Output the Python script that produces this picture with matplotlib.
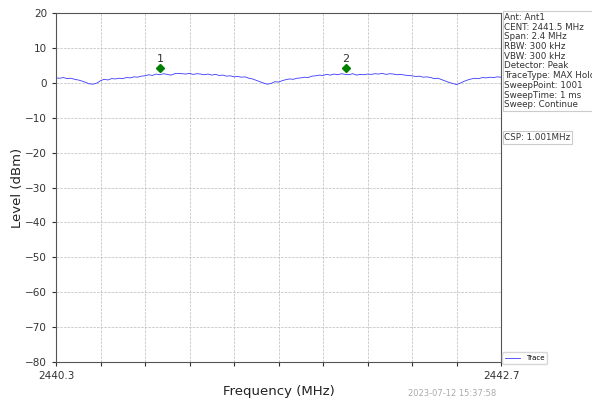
import numpy as np
import matplotlib
matplotlib.use('Agg')
import matplotlib.pyplot as plt

f_start = 2440.3
f_stop = 2442.7

# trace level (dBm), sampled every 0.02 MHz from 2440.3 to 2442.7
trace = [1.4, 1.3, 1.5, 1.2, 1.3, 1.0, 0.8, 0.5, 0.1, -0.3,
         -0.4, -0.1, 0.6, 1.0, 0.8, 1.2, 1.1, 1.3, 1.2, 1.5,
         1.4, 1.7, 1.6, 1.9, 2.0, 2.3, 2.1, 2.5, 2.3, 2.6,
         2.4, 2.2, 2.6, 2.7, 2.6, 2.5, 2.7, 2.4, 2.6, 2.5,
         2.3, 2.5, 2.2, 2.4, 2.1, 2.2, 1.9, 2.0, 1.7, 1.8,
         1.6, 1.7, 1.3, 1.1, 0.7, 0.3, -0.1, -0.4, -0.2, 0.3,
         0.2, 0.6, 0.9, 1.1, 1.0, 1.3, 1.4, 1.6, 1.5, 1.9,
         2.0, 2.2, 2.1, 2.4, 2.2, 2.5, 2.3, 2.6, 2.4, 2.3,
         2.6, 2.2, 2.4, 2.3, 2.5, 2.4, 2.6, 2.5, 2.7, 2.4,
         2.6, 2.5, 2.3, 2.4, 2.2, 2.1, 2.0, 1.8, 1.9, 1.6,
         1.7, 1.5, 1.2, 1.3, 0.9, 0.5, 0.1, -0.2, -0.5, -0.1,
         0.4, 0.8, 1.1, 1.3, 1.2, 1.5, 1.4, 1.6, 1.5, 1.7,
         1.6]
freqs = np.linspace(f_start, f_stop, len(trace))

marker_freqs = [2440.861, 2441.862]
marker_levels = [4.1, 4.2]
marker_names = ['1', '2']

info_lines = ['Ant: Ant1', 'CENT: 2441.5 MHz', 'Span: 2.4 MHz', 'RBW: 300 kHz',
              'VBW: 300 kHz', 'Detector: Peak', 'TraceType: MAX Hold',
              'SweepPoint: 1001', 'SweepTime: 1 ms', 'Sweep: Continue']
csp_text = 'CSP: 1.001MHz'
timestamp = '2023-07-12 15:37:58'

fig = plt.figure(figsize=(5.92, 4.05), dpi=100)
ax = fig.add_axes([0.0946, 0.106, 0.7517, 0.862])

ax.plot(freqs, trace, color='#3a3aff', lw=0.6, label='Trace')
ax.plot(marker_freqs, marker_levels, 'D', color='green', ms=4, ls='none')
for f, l, n in zip(marker_freqs, marker_levels, marker_names):
    ax.annotate(n, (f, l), xytext=(0, 3), textcoords='offset points',
                ha='center', va='bottom', fontsize=8, color='#333333')

ax.set_xlim(f_start, f_stop)
ax.set_ylim(-80, 20)
ax.set_xticks(np.linspace(f_start, f_stop, 11))
ax.set_xticklabels(['2440.3'] + [''] * 9 + ['2442.7'])
ax.set_yticks(np.arange(-80, 21, 10))
ax.tick_params(labelsize=7.5, length=3, colors='#333333')
ax.grid(True, ls='--', lw=0.5, color='#bbbbbb')
for s in ax.spines.values():
    s.set_color('#555555')

ax.set_xlabel('Frequency (MHz)', fontsize=9.5, color='#222222', labelpad=3)
ax.set_ylabel('Level (dBm)', fontsize=9.5, color='#222222', labelpad=1)

leg = ax.legend(loc='lower left', bbox_to_anchor=(1.003, -0.005), fontsize=5,
                handlelength=2.2, borderaxespad=0, frameon=True)
leg.get_frame().set_edgecolor('#cccccc')

fig.text(0.852, 0.968, '\n'.join(info_lines), fontsize=6.3, va='top', ha='left',
         color='#333333', linespacing=1.1,
         bbox=dict(boxstyle='square,pad=0.2', fc='white', ec='#cccccc', lw=0.8))
fig.text(0.852, 0.66, csp_text, fontsize=6.3, va='center', ha='left', color='#333333',
         bbox=dict(boxstyle='square,pad=0.2', fc='white', ec='#cccccc', lw=0.8))
fig.text(0.69, 0.022, timestamp, fontsize=6, color='#aaaaaa')

fig.savefig('out.png', dpi=100)
